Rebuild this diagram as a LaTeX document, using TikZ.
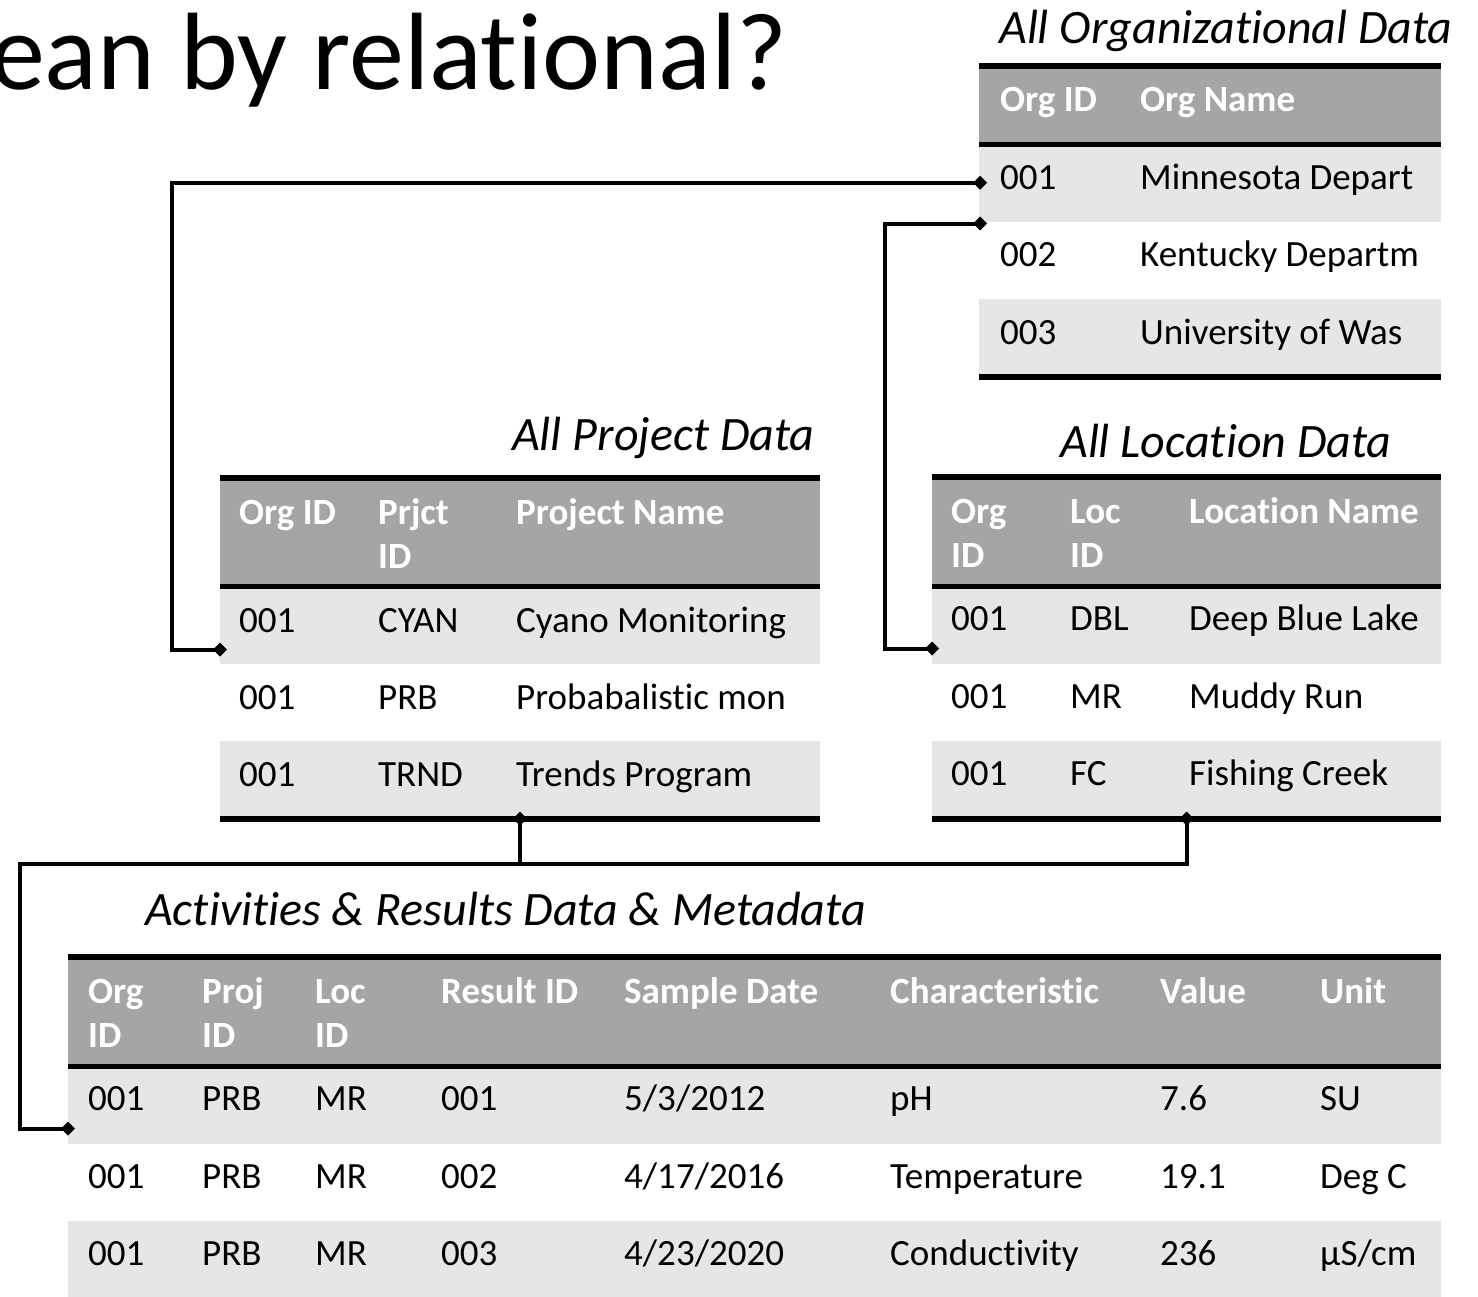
\documentclass[tikz,border=0pt]{standalone}
\usepackage{fontspec}
\setmainfont[Ligatures=NoCommon]{Carlito}
\usetikzlibrary{positioning,calc,arrows.meta}
\definecolor{hdgray}{RGB}{165,165,165}
\definecolor{rwgray}{RGB}{231,230,230}
\tikzset{
  band/.style={inner sep=0, outer sep=0, anchor=north west, minimum height=77.5pt},
  hd/.style={anchor=base west, inner sep=0, text=white, align=left, font=\bfseries\fontsize{37}{44}\selectfont},
  cl/.style={anchor=base west, inner sep=0, font=\fontsize{37}{44}\selectfont},
  ttl/.style={anchor=base west, inner sep=0, font=\itshape\fontsize{48}{56}\selectfont},
  big/.style={anchor=base west, inner sep=0, font=\fontsize{110}{120}\selectfont},
  rule/.style={line width=6pt},
  midrule/.style={line width=5pt},
  link/.style={line width=4pt, {Diamond[length=14pt,width=14pt]}-{Diamond[length=14pt,width=14pt]}}
}
\begin{document}
\begin{tikzpicture}[x=1pt,y=-1pt]
\useasboundingbox (0,0) rectangle (1478,1296);
\node[big] (title) at (-10,89) {ean by relational?};

\node[ttl] (ot) at (999,43) {All Organizational Data};
\node[band, fill=hdgray, minimum width=462pt, minimum height=78pt] (oh) at (979,66) {};
\node[band, fill=rwgray, minimum width=462pt] (o1) at (979,144) {};
\node[band, minimum width=462pt] (o2) at (979,221.5) {};
\node[band, fill=rwgray, minimum width=462pt] (o3) at (979,299) {};
\draw[rule] (oh.north west) -- (oh.north east);
\draw[midrule] (oh.south west) -- (oh.south east);
\draw[rule] (o3.south west) -- (o3.south east);
\node[hd] (oha) at (1000,111) {Org ID};
\node[hd] (ohb) at (1140,111) {Org Name};
\node[cl] (o1a) at (1000,189) {001};
\node[cl] (o1b) at (1140,189) {Minnesota Depart};
\node[cl] (o2a) at (1000,266) {002};
\node[cl] (o2b) at (1140,266) {Kentucky Departm};
\node[cl] (o3a) at (1000,344) {003};
\node[cl] (o3b) at (1140,344) {University of Was};

\node[ttl] (pt) at (512,450) {All Project Data};
\node[band, fill=hdgray, minimum width=600pt, minimum height=108pt] (ph) at (220,478) {};
\node[band, fill=rwgray, minimum width=600pt] (p1) at (220,586) {};
\node[band, minimum width=600pt] (p2) at (220,663.5) {};
\node[band, fill=rwgray, minimum width=600pt] (p3) at (220,741) {};
\draw[rule] (ph.north west) -- (ph.north east);
\draw[midrule] (ph.south west) -- (ph.south east);
\draw[rule] (p3.south west) -- (p3.south east);
\node[hd] (pha) at (239,524) {Org ID};
\node[hd] (phb) at (378,568) {Prjct\\ID};
\node[hd] (phc) at (516,524) {Project Name};
\node[cl] (p1a) at (239,632) {001};
\node[cl] (p1b) at (378,632) {CYAN};
\node[cl] (p1c) at (516,632) {Cyano Monitoring};
\node[cl] (p2a) at (239,709) {001};
\node[cl] (p2b) at (378,709) {PRB};
\node[cl] (p2c) at (516,709) {Probabalistic mon};
\node[cl] (p3a) at (239,786) {001};
\node[cl] (p3b) at (378,786) {TRND};
\node[cl] (p3c) at (516,786) {Trends Program};

\node[ttl] (lt) at (1060,457) {All Location Data};
\node[band, fill=hdgray, minimum width=509pt, minimum height=109pt] (lh) at (932,477) {};
\node[band, fill=rwgray, minimum width=509pt] (l1) at (932,586) {};
\node[band, minimum width=509pt] (l2) at (932,663.5) {};
\node[band, fill=rwgray, minimum width=509pt] (l3) at (932,741) {};
\draw[rule] (lh.north west) -- (lh.north east);
\draw[midrule] (lh.south west) -- (lh.south east);
\draw[rule] (l3.south west) -- (l3.south east);
\node[hd] (lha) at (951,567) {Org\\ID};
\node[hd] (lhb) at (1070,567) {Loc\\ID};
\node[hd] (lhc) at (1189,523) {Location Name};
\node[cl] (l1a) at (951,630) {001};
\node[cl] (l1b) at (1070,630) {DBL};
\node[cl] (l1c) at (1189,630) {Deep Blue Lake};
\node[cl] (l2a) at (951,708) {001};
\node[cl] (l2b) at (1070,708) {MR};
\node[cl] (l2c) at (1189,708) {Muddy Run};
\node[cl] (l3a) at (951,785) {001};
\node[cl] (l3b) at (1070,785) {FC};
\node[cl] (l3c) at (1189,785) {Fishing Creek};

\node[ttl] (at) at (145,925) {Activities \& Results Data \& Metadata};
\node[band, fill=hdgray, minimum width=1373pt, minimum height=109pt] (ah) at (68,957) {};
\node[band, fill=rwgray, minimum width=1373pt] (a1) at (68,1066) {};
\node[band, minimum width=1373pt] (a2) at (68,1143.5) {};
\node[band, fill=rwgray, minimum width=1373pt] (a3) at (68,1221) {};
\draw[rule] (ah.north west) -- (ah.north east);
\draw[midrule] (ah.south west) -- (ah.south east);
\node[hd] (aha) at (88,1047) {Org\\ID};
\node[hd] (ahb) at (202,1047) {Proj\\ID};
\node[hd] (ahc) at (315,1047) {Loc\\ID};
\node[hd] (ahd) at (441,1003) {Result ID};
\node[hd] (ahe) at (624,1003) {Sample Date};
\node[hd] (ahf) at (890,1003) {Characteristic};
\node[hd] (ahg) at (1160,1003) {Value};
\node[hd] (ahh) at (1320,1003) {Unit};
\node[cl] (a1a) at (88,1110) {001};
\node[cl] (a1b) at (202,1110) {PRB};
\node[cl] (a1c) at (315,1110) {MR};
\node[cl] (a1d) at (441,1110) {001};
\node[cl] (a1e) at (624,1110) {5/3/2012};
\node[cl] (a1f) at (890,1110) {pH};
\node[cl] (a1g) at (1160,1110) {7.6};
\node[cl] (a1h) at (1320,1110) {SU};
\node[cl] (a2a) at (88,1188) {001};
\node[cl] (a2b) at (202,1188) {PRB};
\node[cl] (a2c) at (315,1188) {MR};
\node[cl] (a2d) at (441,1188) {002};
\node[cl] (a2e) at (624,1188) {4/17/2016};
\node[cl] (a2f) at (890,1188) {Temperature};
\node[cl] (a2g) at (1160,1188) {19.1};
\node[cl] (a2h) at (1320,1188) {Deg C};
\node[cl] (a3a) at (88,1265) {001};
\node[cl] (a3b) at (202,1265) {PRB};
\node[cl] (a3c) at (315,1265) {MR};
\node[cl] (a3d) at (441,1265) {003};
\node[cl] (a3e) at (624,1265) {4/23/2020};
\node[cl] (a3f) at (890,1265) {Conductivity};
\node[cl] (a3g) at (1160,1265) {236};
\node[cl] (a3h) at (1320,1265) {µS/cm};

\draw[link] ($(o1.west)+(8,0)$) -| ($(p1.south west)+(-48,-14)$) -- ($(p1.south west)+(7,-14)$);
\draw[link] ($(o1.south west)+(8,2)$) -| ($(l1.south west)+(-47,-15)$) -- ($(l1.south west)+(7,-15)$);
\draw[link] ($(l3.south)+(0,-7)$) -- ($(l3.south)+(0,45.5)$) -| ($(a1.south west)+(-48,-15)$) -- ($(a1.south west)+(7,-15)$);
\draw[line width=4pt, {Diamond[length=14pt,width=14pt]}-] ($(p3.south)+(0,-7)$) -- ($(p3.south)+(0,45.5)$);
\end{tikzpicture}
\end{document}
